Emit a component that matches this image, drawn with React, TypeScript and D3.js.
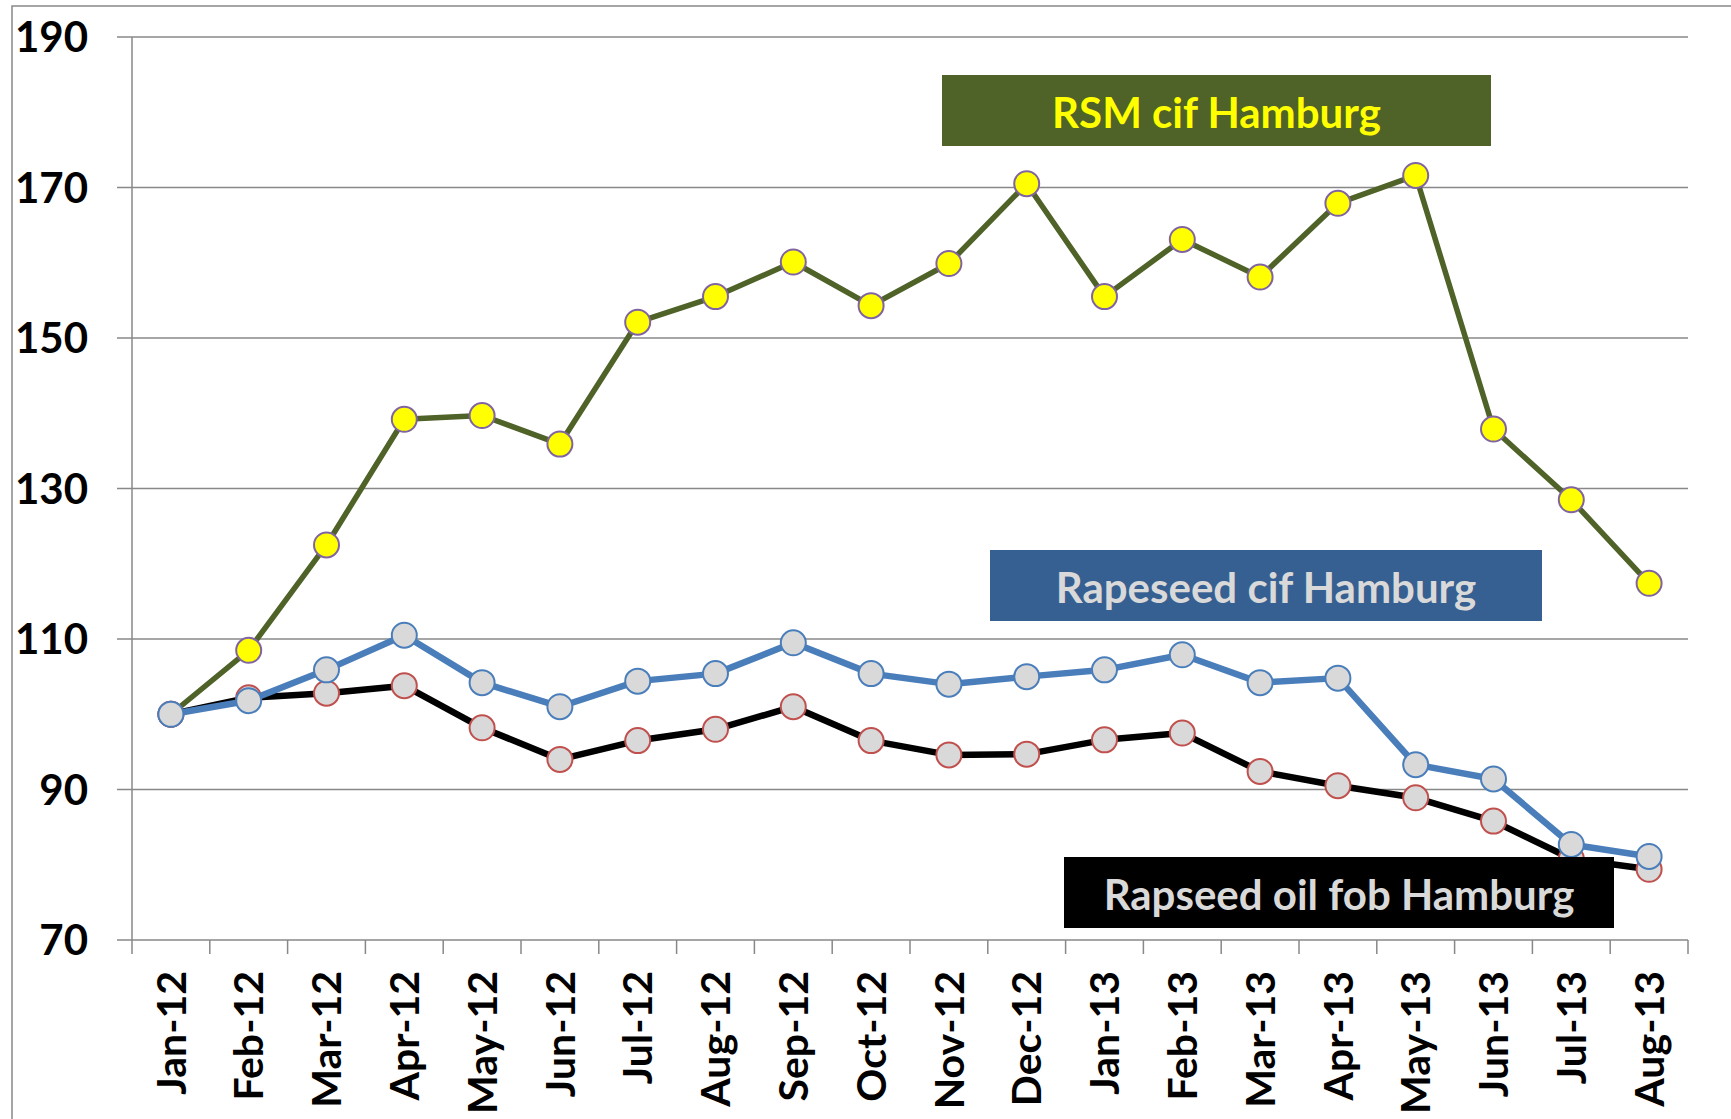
import React, { useEffect, useRef } from 'react';
import * as d3 from 'd3';

const months = [
    'Jan-12', 'Feb-12', 'Mar-12', 'Apr-12', 'May-12', 'Jun-12', 'Jul-12', 'Aug-12', 'Sep-12', 'Oct-12',
    'Nov-12', 'Dec-12', 'Jan-13', 'Feb-13', 'Mar-13', 'Apr-13', 'May-13', 'Jun-13', 'Jul-13', 'Aug-13',
];
const rsmCif = [100, 108.5, 122.5, 139.2, 139.7, 135.9, 152.1, 155.5, 160.1, 154.3, 159.9, 170.5, 155.5, 163.1, 158.1, 167.9, 171.6, 137.9, 128.5, 117.4];
const rapeseedCif = [100, 101.8, 105.9, 110.5, 104.2, 101, 104.4, 105.4, 109.5, 105.4, 104, 105, 105.9, 107.9, 104.2, 104.8, 93.3, 91.4, 82.7, 81.1];
const rapeseedOilFob = [100, 102.2, 102.8, 103.8, 98.2, 94, 96.5, 98, 101, 96.5, 94.6, 94.7, 96.6, 97.5, 92.4, 90.5, 88.9, 85.8, 80.8, 79.4];
const yTicks = [70, 90, 110, 130, 150, 170, 190];

const FONT = 'Lato, "Open Sans", sans-serif';

export const App: React.FC = () => {
    const ref = useRef<SVGSVGElement>(null);

    const width = 1731;
    const height = 1119;
    const margin = { top: 37, right: 43, bottom: 179, left: 132 };
    const innerW = width - margin.left - margin.right;
    const innerH = height - margin.top - margin.bottom;

    useEffect(() => {
        draw();
        //eslint-disable-next-line
    }, []);

    const draw = () => {
        const svg = d3.select(ref.current);
        svg.selectAll('*').remove();

        // outer frame of the chart area
        svg.append('rect')
            .attr('x', 12).attr('y', 6)
            .attr('width', width).attr('height', height)
            .attr('fill', 'none').attr('stroke', '#888').attr('stroke-width', 1.5);

        const g = svg.append('g').attr('transform', `translate(${margin.left},${margin.top})`);

        const x = d3.scaleBand().domain(months).range([0, innerW]);
        const y = d3.scaleLinear().domain([70, 190]).range([innerH, 0]);
        const cx = (m: string) => (x(m) ?? 0) + x.bandwidth() / 2;

        // gridlines + left ticks
        g.append('g')
            .selectAll('line')
            .data(yTicks)
            .enter()
            .append('line')
            .attr('x1', -15).attr('x2', innerW)
            .attr('y1', d => y(d)).attr('y2', d => y(d))
            .attr('stroke', '#888').attr('stroke-width', 1.5);

        g.append('g')
            .selectAll('text')
            .data(yTicks)
            .enter()
            .append('text')
            .attr('x', -44)
            .attr('y', d => y(d))
            .attr('dy', '0.36em')
            .attr('text-anchor', 'end')
            .attr('font-family', FONT).attr('font-weight', 700).attr('font-size', 42)
            .attr('fill', '#000')
            .text(d => d);

        // y axis line
        g.append('line')
            .attr('x1', 0).attr('x2', 0).attr('y1', 0).attr('y2', innerH)
            .attr('stroke', '#888').attr('stroke-width', 1.5);

        // x ticks at band edges
        const edges = months.map(m => x(m) ?? 0).concat([innerW]);
        g.append('g')
            .selectAll('line')
            .data(edges)
            .enter()
            .append('line')
            .attr('x1', d => d).attr('x2', d => d)
            .attr('y1', innerH).attr('y2', innerH + 14)
            .attr('stroke', '#888').attr('stroke-width', 1.5);

        g.append('g')
            .selectAll('text')
            .data(months)
            .enter()
            .append('text')
            .attr('transform', d => `translate(${cx(d)},${innerH + 31}) rotate(-90)`)
            .attr('dy', '0.36em')
            .attr('text-anchor', 'end')
            .attr('font-family', FONT).attr('font-weight', 700).attr('font-size', 41)
            .attr('fill', '#000')
            .text(d => d);

        const series = [
            { values: rsmCif, line: '#4F6228', width: 5.5, fill: '#FFFF00', stroke: '#8064A2' },
            { values: rapeseedOilFob, line: '#000000', width: 6.5, fill: '#D9D9D9', stroke: '#C0504D' },
            { values: rapeseedCif, line: '#4A7EBB', width: 6.5, fill: '#D9D9D9', stroke: '#4A7EBB' },
        ];

        const line = d3.line<number>()
            .x((_, i) => cx(months[i]))
            .y(d => y(d));

        series.forEach(s => {
            g.append('path')
                .datum(s.values)
                .attr('d', line)
                .attr('fill', 'none')
                .attr('stroke', s.line)
                .attr('stroke-width', s.width)
                .attr('stroke-linejoin', 'round');

            g.append('g')
                .selectAll('circle')
                .data(s.values)
                .enter()
                .append('circle')
                .attr('cx', (_, i) => cx(months[i]))
                .attr('cy', d => y(d))
                .attr('r', 12.5)
                .attr('fill', s.fill)
                .attr('stroke', s.stroke)
                .attr('stroke-width', 2);
        });

        // series labels
        const labels = [
            { text: 'RSM cif Hamburg', x: 942, y: 75, w: 549, h: 71, bg: '#4F6228', color: '#FFFF00' },
            { text: 'Rapeseed cif Hamburg', x: 990, y: 550, w: 552, h: 71, bg: '#376092', color: '#D9D9D9' },
            { text: 'Rapseed oil fob Hamburg', x: 1064, y: 857, w: 550, h: 71, bg: '#000000', color: '#D9D9D9' },
        ];
        labels.forEach(l => {
            svg.append('rect')
                .attr('x', l.x).attr('y', l.y)
                .attr('width', l.w).attr('height', l.h)
                .attr('fill', l.bg);
            svg.append('text')
                .attr('x', l.x + l.w / 2)
                .attr('y', l.y + 53)
                .attr('text-anchor', 'middle')
                .attr('font-family', FONT).attr('font-weight', 700).attr('font-size', 42)
                .attr('fill', l.color)
                .text(l.text);
        });
    };

    return (
        <svg
            ref={ref}
            width={width}
            height={height}
            style={{ position: 'absolute', left: 0, top: 0, background: '#fff' }}
        ></svg>
    );
};

export default App;
